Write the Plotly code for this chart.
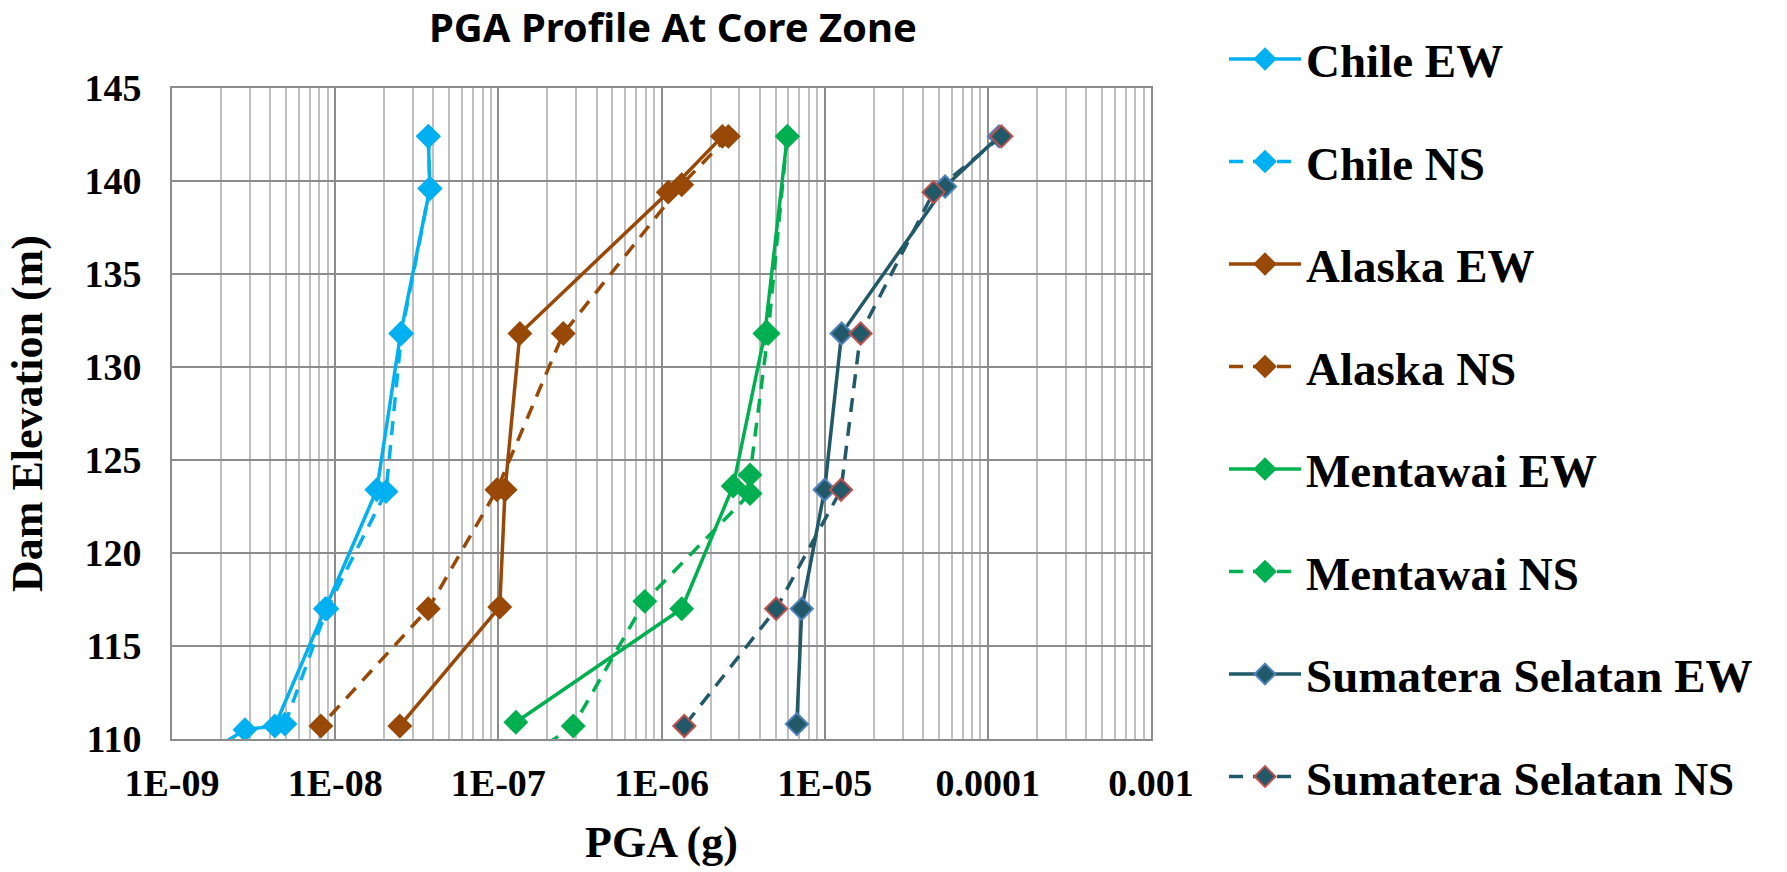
import plotly.graph_objects as go

# ---- data ----
chile_ew_elev = [142.4, 139.6, 131.8, 123.4, 117.0, 110.7, 110.5, 109.0]
chile_ew_pga = [3.72e-8, 3.81e-8, 2.52e-8, 1.80e-8, 8.7e-9, 4.27e-9, 2.8e-9, 1.5e-9]

chile_ns_elev = [142.4, 139.6, 131.8, 123.3, 117.0, 110.8]
chile_ns_pga = [3.72e-8, 3.81e-8, 2.55e-8, 2.05e-8, 8.9e-9, 4.92e-9]

alaska_ew_elev = [142.4, 139.4, 131.8, 123.4, 117.1, 110.7]
alaska_ew_pga = [2.36e-6, 1.10e-6, 1.355e-7, 1.10e-7, 1.02e-7, 2.49e-8]

alaska_ns_elev = [142.4, 139.8, 131.8, 123.4, 117.0, 110.7]
alaska_ns_pga = [2.57e-6, 1.33e-6, 2.50e-7, 9.8e-8, 3.72e-8, 8.17e-9]

mentawai_ew_elev = [142.4, 131.8, 123.6, 117.0, 110.9]
mentawai_ew_pga = [5.9e-6, 4.3e-6, 2.75e-6, 1.33e-6, 1.28e-7]

mentawai_ns_elev = [142.4, 131.8, 124.2, 123.2, 117.4, 110.7, 109.0]
mentawai_ns_pga = [5.9e-6, 4.5e-6, 3.49e-6, 3.49e-6, 7.9e-7, 2.88e-7, 1.5e-7]

sumatera_ew_elev = [142.4, 139.7, 131.8, 123.4, 117.0, 110.8]
sumatera_ew_pga = [1.17e-4, 5.47e-5, 1.27e-5, 1.0e-5, 7.24e-6, 6.75e-6]

sumatera_ns_elev = [142.4, 139.4, 131.8, 123.4, 117.0, 110.7]
sumatera_ns_pga = [1.21e-4, 4.65e-5, 1.66e-5, 1.26e-5, 5.04e-6, 1.38e-6]

x_tickvals = [1e-9, 1e-8, 1e-7, 1e-6, 1e-5, 1e-4, 1e-3]
x_ticktext = ["1E-09", "1E-08", "1E-07", "1E-06", "1E-05", "0.0001", "0.001"]
y_tickvals = [110, 115, 120, 125, 130, 135, 140, 145]

C_CHILE = "#00B0F0"
C_ALASKA = "#984807"
C_MENT = "#00B050"
C_SUM = "#215968"

SERIF = "Liberation Serif"
DASH = "14px,10px"

series = [
    ("Chile EW", chile_ew_pga, chile_ew_elev, C_CHILE, "solid", C_CHILE),
    ("Chile NS", chile_ns_pga, chile_ns_elev, C_CHILE, DASH, C_CHILE),
    ("Alaska EW", alaska_ew_pga, alaska_ew_elev, C_ALASKA, "solid", C_ALASKA),
    ("Alaska NS", alaska_ns_pga, alaska_ns_elev, C_ALASKA, DASH, C_ALASKA),
    ("Mentawai EW", mentawai_ew_pga, mentawai_ew_elev, C_MENT, "solid", C_MENT),
    ("Mentawai NS", mentawai_ns_pga, mentawai_ns_elev, C_MENT, DASH, C_MENT),
    ("Sumatera Selatan EW", sumatera_ew_pga, sumatera_ew_elev, C_SUM, "solid", "#4F81BD"),
    ("Sumatera Selatan NS", sumatera_ns_pga, sumatera_ns_elev, C_SUM, DASH, "#C0504D"),
]

fig = go.Figure()
for i, (name, xs, ys, col, dash, edge) in enumerate(series):
    fig.add_trace(go.Scatter(
        x=xs, y=ys, name=name, mode="lines+markers",
        legendgroup=f"g{i}",
        line=dict(color=col, width=3.5, dash=dash),
        marker=dict(symbol="diamond", size=17, color=col,
                    line=dict(color=edge, width=2)),
        cliponaxis=True,
    ))

fig.update_layout(
    width=1787, height=872,
    paper_bgcolor="white", plot_bgcolor="white",
    margin=dict(l=172, r=636, t=88, b=133, autoexpand=False),
    title=dict(text="PGA Profile At Core Zone", x=673/1787, xanchor="center",
               y=1-28/872, yanchor="middle",
               font=dict(family="Noto Sans", size=40, color="black", weight=700)),
    showlegend=True,
    legend=dict(xref="container", yref="container", x=1224/1787, y=1-22/872,
                xanchor="left", yanchor="top", itemwidth=72,
                tracegroupgap=38.4, maxheight=900,
                font=dict(family=SERIF, size=47, color="black", weight=700),
                bgcolor="rgba(0,0,0,0)"),
)

fig.update_xaxes(
    type="log", range=[-9, -3],
    tickvals=x_tickvals, ticktext=x_ticktext,
    tickfont=dict(family=SERIF, size=38, color="black", weight=700),
    ticks="", ticklabelstandoff=9,
    showgrid=True, gridcolor="#8C8C8C", gridwidth=2,
    minor=dict(dtick="D1", showgrid=True, gridcolor="#BFBFBF", gridwidth=2, ticks=""),
    showline=True, linecolor="#8C8C8C", linewidth=2, mirror=True,
    zeroline=False,
    title=dict(text="PGA (g)", standoff=24,
               font=dict(family=SERIF, size=44, color="black", weight=700)),
)
fig.update_yaxes(
    range=[110, 145], tickvals=y_tickvals,
    tickfont=dict(family=SERIF, size=38, color="black", weight=700),
    ticks="", ticklabelstandoff=21,
    showgrid=True, gridcolor="#8C8C8C", gridwidth=2,
    showline=True, linecolor="#8C8C8C", linewidth=2, mirror=True,
    zeroline=False,
    title=dict(text="Dam Elevation (m)", standoff=28,
               font=dict(family=SERIF, size=44, color="black", weight=700)),
)

fig.write_html(
    "out.html",
    config={"displayModeBar": False},
    post_script="document.body.style.margin='0';document.body.style.overflow='hidden';",
)
